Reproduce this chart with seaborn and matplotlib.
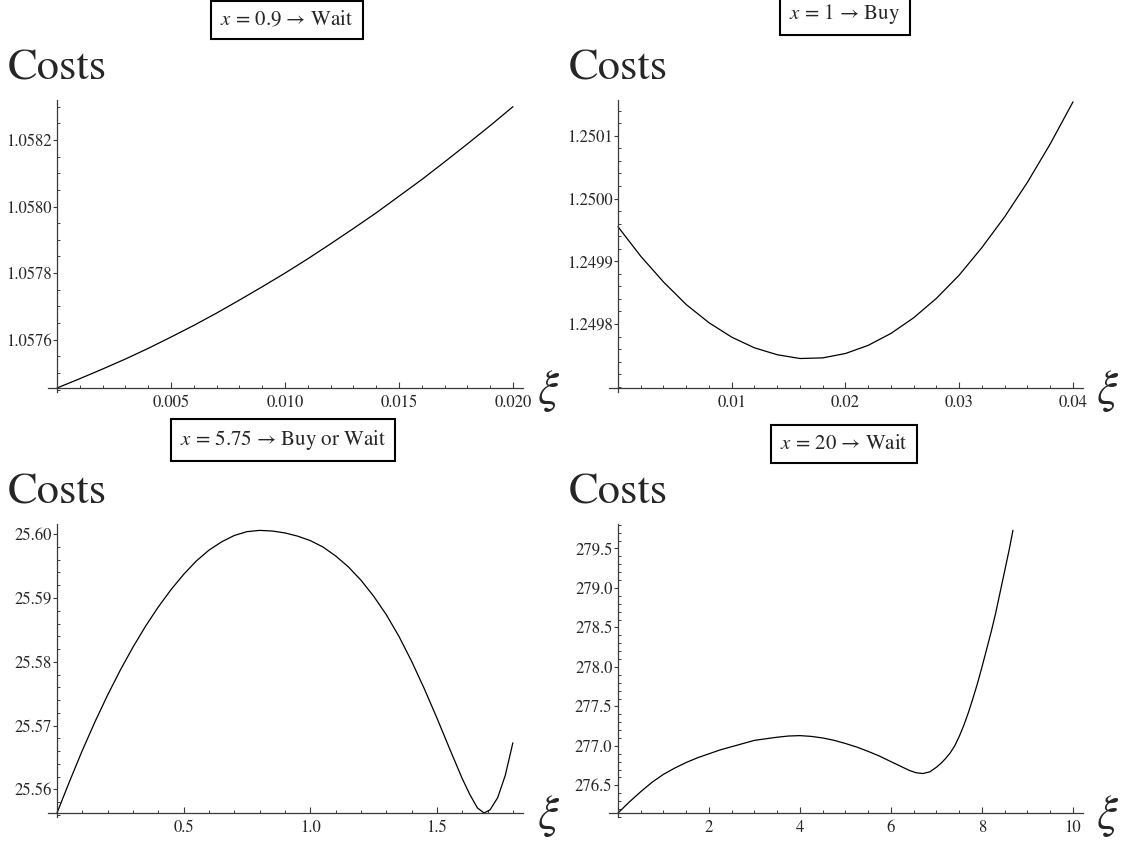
import matplotlib
matplotlib.use("Agg")
import numpy as np
import pandas as pd
import matplotlib.pyplot as plt
import seaborn as sns
from matplotlib.ticker import MultipleLocator

# ---- data ----
xi_wait09 = [0, 0.001, 0.002, 0.003, 0.004, 0.005, 0.006, 0.007, 0.008, 0.009, 0.010,
             0.011, 0.012, 0.013, 0.014, 0.015, 0.016, 0.017, 0.018, 0.019, 0.020]
cost_wait09 = [1.057455, 1.057483, 1.057512, 1.057542, 1.057574, 1.057608, 1.057643, 1.057680,
               1.057719, 1.057759, 1.057800, 1.057843, 1.057888, 1.057934, 1.057981, 1.058031,
               1.058081, 1.058134, 1.058188, 1.058243, 1.058300]

xi_buy1 = [0, 0.002, 0.004, 0.006, 0.008, 0.010, 0.012, 0.014, 0.016, 0.018, 0.020,
           0.022, 0.024, 0.026, 0.028, 0.030, 0.032, 0.034, 0.036, 0.038, 0.040]
cost_buy1 = [1.249955, 1.249908, 1.249867, 1.249831, 1.249802, 1.249779, 1.249762, 1.249751,
             1.249745, 1.249746, 1.249753, 1.249766, 1.249785, 1.249810, 1.249841, 1.249878,
             1.249922, 1.249971, 1.250026, 1.250087, 1.250154]

xi_575 = [0, 0.05, 0.10, 0.15, 0.20, 0.25, 0.30, 0.35, 0.40, 0.45, 0.50, 0.55, 0.60, 0.65,
          0.70, 0.75, 0.80, 0.85, 0.90, 0.95, 1.00, 1.05, 1.10, 1.15, 1.20, 1.25, 1.30, 1.35,
          1.40, 1.45, 1.50, 1.55, 1.60, 1.63, 1.66, 1.686, 1.71, 1.74, 1.77, 1.80]
cost_575 = [25.5563, 25.5613, 25.5661, 25.5706, 25.5748, 25.5787, 25.5823, 25.5856, 25.5886,
            25.5913, 25.5937, 25.5958, 25.5975, 25.5988, 25.5998, 25.6004, 25.6006, 25.6005,
            25.6002, 25.5997, 25.5990, 25.5980, 25.5966, 25.5949, 25.5928, 25.5903, 25.5874,
            25.5840, 25.5801, 25.5758, 25.5712, 25.5664, 25.5617, 25.5592, 25.5571, 25.5563,
            25.5568, 25.5587, 25.5622, 25.5673]

xi_20 = [0, 0.25, 0.5, 0.75, 1.0, 1.25, 1.5, 1.75, 2.0, 2.25, 2.5, 2.75, 3.0, 3.25, 3.5, 3.75,
         4.0, 4.25, 4.5, 4.75, 5.0, 5.25, 5.5, 5.75, 6.0, 6.2, 6.4, 6.55, 6.7, 6.85, 7.0, 7.1,
         7.2, 7.3, 7.4, 7.5, 7.6, 7.7, 7.8, 7.9, 8.0, 8.1, 8.2, 8.3, 8.4, 8.5, 8.6, 8.68]
cost_20 = [276.15, 276.29, 276.42, 276.54, 276.64, 276.72, 276.79, 276.85, 276.90, 276.95,
           276.99, 277.03, 277.07, 277.09, 277.11, 277.125, 277.13, 277.12, 277.10, 277.07,
           277.03, 276.985, 276.93, 276.87, 276.80, 276.745, 276.69, 276.66, 276.65, 276.67,
           276.73, 276.78, 276.84, 276.91, 277.00, 277.12, 277.26, 277.42, 277.60, 277.79,
           278.00, 278.22, 278.44, 278.68, 278.95, 279.22, 279.49, 279.73]

labels = ["$x$ = 0.9 → Wait", "$x$ = 1 → Buy", "$x$ = 5.75 → Buy or Wait", "$x$ = 20 → Wait"]

xticks = [[0.005, 0.010, 0.015, 0.020], [0.01, 0.02, 0.03, 0.04],
          [0.5, 1.0, 1.5], [2, 4, 6, 8, 10]]
xticklabels = [["0.005", "0.010", "0.015", "0.020"], ["0.01", "0.02", "0.03", "0.04"],
               ["0.5", "1.0", "1.5"], ["2", "4", "6", "8", "10"]]
yticks = [[1.0576, 1.0578, 1.0580, 1.0582], [1.2498, 1.2499, 1.2500, 1.2501],
          [25.56, 25.57, 25.58, 25.59, 25.60], [276.5, 277.0, 277.5, 278.0, 278.5, 279.0, 279.5]]
yticklabels = [["1.0576", "1.0578", "1.0580", "1.0582"], ["1.2498", "1.2499", "1.2500", "1.2501"],
               ["25.56", "25.57", "25.58", "25.59", "25.60"],
               ["276.5", "277.0", "277.5", "278.0", "278.5", "279.0", "279.5"]]

# ---- style ----
sns.set_style("ticks")
plt.rcParams["font.family"] = ["STIXGeneral", "DejaVu Serif"]
plt.rcParams["mathtext.fontset"] = "stix"

W, H = 1129, 843
fig = plt.figure(figsize=(W / 100, H / 100), dpi=100)

# layout in pixels: origin x, axis end x, x-axis y, axis top y
layout = [
    dict(ox=57, ex=523, ay=388, ty=100, x_end=0.02044, y0=1.057455, y_top=1.05832,
         xminor=0.001, yminor=0.00005, box=(287, 20), costs_y=79, xi_x=537),
    dict(ox=618, ex=1083, ay=388, ty=100, x_end=0.04088, y0=1.249698, y_top=1.250157,
         xminor=0.002, yminor=0.00002, box=(845, 14), costs_y=79, xi_x=1096),
    dict(ox=57, ex=523, ay=813, ty=524, x_end=1.84, y0=25.5563, y_top=25.6016,
         xminor=0.1, yminor=0.002, box=(283, 440), costs_y=503, xi_x=537),
    dict(ox=618, ex=1083, ay=813, ty=524, x_end=10.22, y0=276.15, y_top=279.81,
         xminor=0.5, yminor=0.1, box=(844, 444), costs_y=503, xi_x=1096),
]
series = [(xi_wait09, cost_wait09), (xi_buy1, cost_buy1), (xi_575, cost_575), (xi_20, cost_20)]

axis_col = "#3a3a3a"
for i, (p, (xs, ys)) in enumerate(zip(layout, series)):
    left = (p["ox"] - 9) / W
    bottom = 1 - (p["ay"] + 4) / H
    ax = fig.add_axes([left, bottom, (p["ex"] - p["ox"] + 9) / W, (p["ay"] + 4 - p["ty"]) / H])
    df = pd.DataFrame({"xi": xs, "cost": ys})
    sns.lineplot(data=df, x="xi", y="cost", ax=ax, color="black", lw=0.9)

    kx = (p["ex"] - p["ox"]) / p["x_end"]
    ky = (p["ay"] - p["ty"]) / (p["y_top"] - p["y0"])
    ax.set_xlim(-9 / kx, p["x_end"])
    ax.set_ylim(p["y0"] - 4 / ky, p["y_top"])

    for s in ["top", "right"]:
        ax.spines[s].set_visible(False)
    ax.spines["left"].set_position(("data", 0))
    ax.spines["bottom"].set_position(("data", p["y0"]))
    for s in ["left", "bottom"]:
        ax.spines[s].set_color(axis_col)
        ax.spines[s].set_linewidth(0.9)

    ax.set_xticks(xticks[i], xticklabels[i])
    ax.set_yticks(yticks[i], yticklabels[i])
    ax.xaxis.set_minor_locator(MultipleLocator(p["xminor"]))
    ax.yaxis.set_minor_locator(MultipleLocator(p["yminor"]))
    ax.xaxis.set_tick_params(which="major", direction="in", length=4.5, width=0.8,
                             color=axis_col, labelsize=12, pad=5)
    ax.xaxis.set_tick_params(which="minor", direction="in", length=2.5, width=0.7, color=axis_col)
    ax.yaxis.set_tick_params(which="major", direction="out", length=3, width=0.8,
                             color=axis_col, labelsize=12, pad=1)
    ax.yaxis.set_tick_params(which="minor", direction="in", length=2.5, width=0.7, color=axis_col)
    ax.set_xlabel("")
    ax.set_ylabel("")
    ax.patch.set_alpha(0)

    # axis labels, Mathematica style
    costs_x = 8 if p["ox"] < 300 else 569
    fig.text(costs_x / W, 1 - p["costs_y"] / H, "Costs", fontsize=32, va="baseline", ha="left")
    fig.text(p["xi_x"] / W, 1 - (p["ay"] + 3) / H, r"$\xi$", fontsize=34, va="center", ha="left")

    # plot label box
    bx, by = p["box"]
    fig.text(bx / W, 1 - by / H, labels[i], fontsize=15, ha="center", va="center",
             bbox=dict(boxstyle="square,pad=0.45", fc="white", ec="black", lw=1.5))

fig.savefig("out.png", dpi=100)
